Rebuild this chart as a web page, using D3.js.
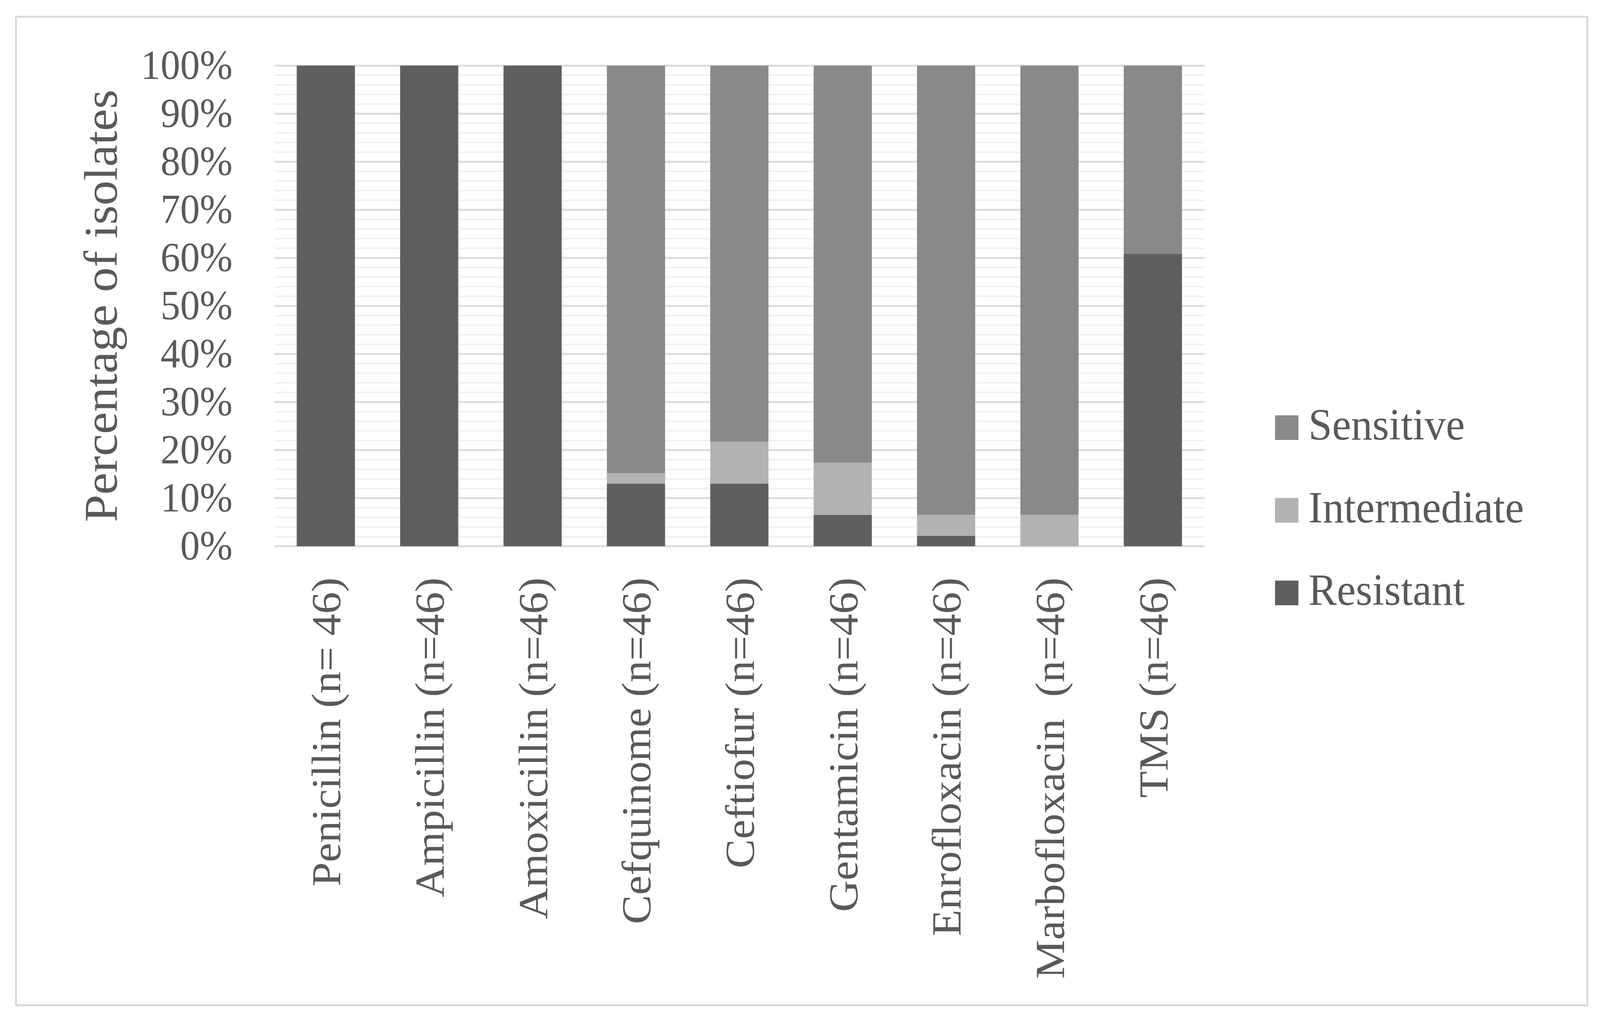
<!DOCTYPE html>
<html>
<head>
<meta charset="utf-8">
<script src="https://cdn.jsdelivr.net/npm/d3@7"></script>
<style>
  html, body { margin: 0; padding: 0; background: #fff; overflow: hidden; }
  svg { display: block; }
  text { font-family: "Liberation Serif", serif; fill: #595959; white-space: pre; }
</style>
</head>
<body>
<div class="chart"></div>
<script>
// antibiotic categories (x axis)
var categories = ["Penicillin (n= 46)", "Ampicillin (n=46)", "Amoxicillin (n=46)", "Cefquinome (n=46)",
  "Ceftiofur (n=46)", "Gentamicin (n=46)", "Enrofloxacin (n=46)", "Marbofloxacin  (n=46)", "TMS (n=46)"];

// percentage of isolates
var resistant    = [100, 100, 100, 13.04, 13.04, 6.52, 2.17, 0, 60.87];
var intermediate = [0, 0, 0, 2.17, 8.70, 10.87, 4.35, 6.52, 0];
var sensitive    = [0, 0, 0, 84.78, 78.26, 82.61, 93.48, 93.48, 39.13];

var seriesNames = ["Resistant", "Intermediate", "Sensitive"];
var legendOrder = ["Sensitive", "Intermediate", "Resistant"];
var colors = {Resistant: "#5f5f5f", Intermediate: "#b2b2b2", Sensitive: "#898989"};

var W = 4313, H = 2608;
var plotLeft = 739, plotRight = 3247, plotTop = 168, plotBottom = 1398;

var table = categories.map(function(c, i) {
  return {cat: c, Resistant: resistant[i], Intermediate: intermediate[i], Sensitive: sensitive[i]};
});

// drawn in a 4313x2608 space, stretched to whatever the window really is
var svg = d3.select(".chart").append("svg")
  .attr("viewBox", "0 0 " + W + " " + H)
  .attr("preserveAspectRatio", "none")
  .attr("width", window.innerWidth || W)
  .attr("height", window.innerHeight || H);

svg.append("rect").attr("width", W).attr("height", H).attr("fill", "#fff");

// outer frame
svg.append("rect")
  .attr("x", 43).attr("y", 43)
  .attr("width", 4236).attr("height", 2530)
  .attr("fill", "none")
  .attr("stroke", "#d9d9d9")
  .attr("stroke-width", 5);

var x = d3.scaleBand().domain(categories).range([plotLeft, plotRight]).paddingInner(0.437).paddingOuter(0.2185);
var y = d3.scaleLinear().domain([0, 100]).range([plotBottom, plotTop]);

// minor gridlines every 2%
svg.append("g").selectAll("line")
  .data(y.ticks(50).filter(function(d) { return d % 10 != 0; }))
  .enter().append("line")
  .attr("x1", plotLeft).attr("x2", plotRight)
  .attr("y1", function(d) { return y(d); })
  .attr("y2", function(d) { return y(d); })
  .attr("stroke", "#f0f0f0")
  .attr("stroke-width", 4);

// major gridlines every 10%
svg.append("g").selectAll("line")
  .data(y.ticks(10))
  .enter().append("line")
  .attr("x1", plotLeft).attr("x2", plotRight)
  .attr("y1", function(d) { return y(d); })
  .attr("y2", function(d) { return y(d); })
  .attr("stroke", "#d9d9d9")
  .attr("stroke-width", 4.5);

// stacked bars
var stacked = d3.stack().keys(seriesNames)(table);

svg.append("g").selectAll("g")
  .data(stacked)
  .enter().append("g")
  .attr("fill", function(d) { return colors[d.key]; })
  .selectAll("rect")
  .data(function(d) { return d; })
  .enter().append("rect")
  .attr("x", function(d) { return x(d.data.cat); })
  .attr("width", x.bandwidth())
  .attr("y", function(d) { return y(d[1]); })
  .attr("height", function(d) { return y(d[0]) - y(d[1]); });

// y axis
var yAxis = svg.append("g")
  .attr("transform", "translate(" + plotLeft + ",0)")
  .call(d3.axisLeft(y).ticks(10).tickSize(0).tickPadding(112).tickFormat(function(d) { return d + "%"; }));
yAxis.select(".domain").remove();
yAxis.selectAll("text")
  .style("font-family", "Liberation Serif")
  .style("font-size", "106px")
  .attr("fill", "#595959");

// x axis with rotated labels
var xAxis = svg.append("g")
  .attr("transform", "translate(0," + plotBottom + ")")
  .call(d3.axisBottom(x).tickSize(0));
xAxis.select(".domain").remove();
xAxis.selectAll("text")
  .attr("transform", "rotate(-90)")
  .attr("x", -80)
  .attr("y", 0)
  .attr("dy", "0.35em")
  .style("text-anchor", "end")
  .style("font-family", "Liberation Serif")
  .style("font-size", "112px")
  .attr("fill", "#595959");

// y axis title
svg.append("text")
  .attr("transform", "translate(315," + ((plotTop + plotBottom) / 2) + ") rotate(-90)")
  .attr("text-anchor", "middle")
  .style("font-size", "127px")
  .text("Percentage of isolates");

// legend
var legend = svg.append("g").selectAll("g")
  .data(legendOrder)
  .enter().append("g")
  .attr("transform", function(d, i) { return "translate(3437," + (1063 + i * 211.5) + ")"; });

legend.append("rect")
  .attr("width", 63).attr("height", 63)
  .attr("fill", function(d) { return colors[d]; });

legend.append("text")
  .attr("x", 90)
  .attr("y", 62)
  .style("font-size", "115px")
  .text(function(d) { return d; });
</script>
</body>
</html>
